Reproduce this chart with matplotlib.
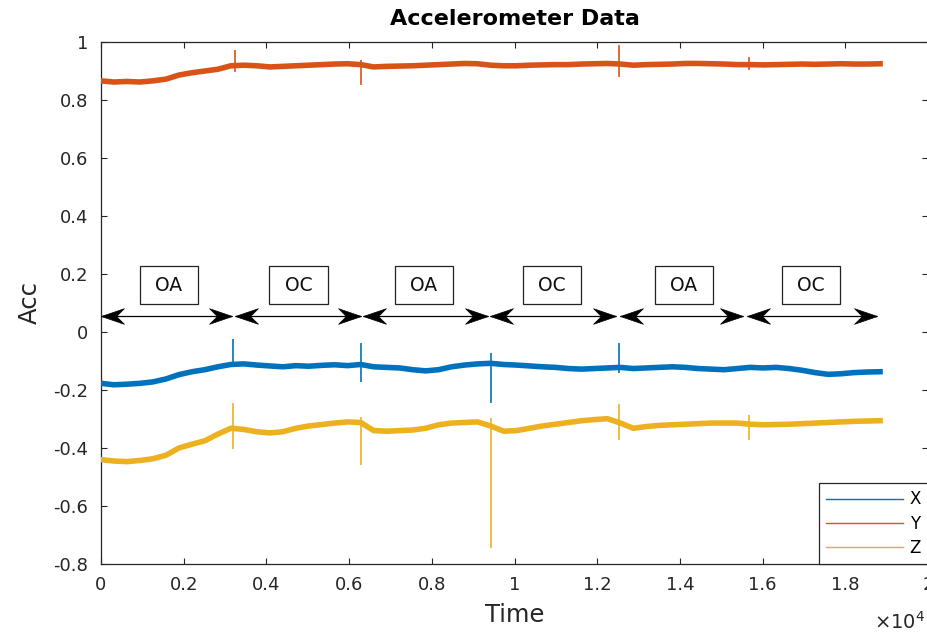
import numpy as np
import matplotlib
matplotlib.use("Agg")
import matplotlib.pyplot as plt
from matplotlib.path import Path
from matplotlib.lines import Line2D

# ---------------- data ----------------
t = np.linspace(0, 18840, 61)   # sample index (time)

acc_x = [-0.177, -0.182, -0.180, -0.177, -0.172, -0.162, -0.147, -0.137, -0.130, -0.120,
         -0.112, -0.110, -0.114, -0.117, -0.120, -0.116, -0.118, -0.115, -0.113, -0.116,
         -0.112, -0.120, -0.122, -0.124, -0.130, -0.134, -0.130, -0.120, -0.114, -0.110,
         -0.108, -0.112, -0.114, -0.117, -0.120, -0.122, -0.126, -0.128, -0.126, -0.124,
         -0.122, -0.126, -0.124, -0.122, -0.120, -0.122, -0.126, -0.128, -0.130, -0.126,
         -0.122, -0.124, -0.122, -0.126, -0.132, -0.140, -0.146, -0.144, -0.140, -0.138,
         -0.137]

acc_y = [0.866, 0.862, 0.864, 0.862, 0.866, 0.872, 0.886, 0.894, 0.900, 0.906,
         0.918, 0.920, 0.918, 0.914, 0.916, 0.918, 0.920, 0.922, 0.924, 0.925,
         0.922, 0.914, 0.916, 0.917, 0.918, 0.920, 0.922, 0.924, 0.926, 0.925,
         0.920, 0.918, 0.918, 0.920, 0.921, 0.922, 0.922, 0.924, 0.925, 0.926,
         0.924, 0.920, 0.922, 0.923, 0.924, 0.926, 0.926, 0.925, 0.924, 0.922,
         0.922, 0.921, 0.922, 0.923, 0.924, 0.923, 0.924, 0.925, 0.924, 0.924,
         0.925]

acc_z = [-0.440, -0.445, -0.447, -0.443, -0.437, -0.425, -0.400, -0.387, -0.375, -0.352,
         -0.332, -0.336, -0.344, -0.348, -0.344, -0.332, -0.324, -0.319, -0.314, -0.310,
         -0.312, -0.340, -0.342, -0.340, -0.338, -0.332, -0.320, -0.314, -0.312, -0.310,
         -0.324, -0.342, -0.340, -0.332, -0.324, -0.318, -0.312, -0.306, -0.302, -0.299,
         -0.314, -0.332, -0.326, -0.322, -0.320, -0.318, -0.316, -0.314, -0.314, -0.314,
         -0.318, -0.320, -0.319, -0.318, -0.316, -0.314, -0.312, -0.310, -0.308, -0.307,
         -0.306]

# spikes (transients at segment changes)
spike_x_t = [3200, 6290, 9430, 12530]
spike_x_lo = [-0.115, -0.171, -0.244, -0.141]
spike_x_hi = [-0.025, -0.038, -0.071, -0.038]

spike_y_t = [3230, 6290, 12530, 15680]
spike_y_lo = [0.898, 0.852, 0.880, 0.903]
spike_y_hi = [0.972, 0.938, 0.990, 0.949]

spike_z_t = [3200, 6290, 9430, 12530, 15680]
spike_z_lo = [-0.403, -0.459, -0.745, -0.372, -0.372]
spike_z_hi = [-0.245, -0.293, -0.297, -0.250, -0.286]

# segment annotations
seg_labels = ["OA", "OC", "OA", "OC", "OA", "OC"]
seg_label_t = [1645, 4776, 7805, 10907, 14092, 17171]
arrow_start = [0, 3240, 6340, 9410, 12550, 15620]
arrow_end = [3160, 6280, 9360, 12455, 15525, 18770]
arrow_level = 0.055
label_level = 0.162

x_ticks = [0, 2000, 4000, 6000, 8000, 10000, 12000, 14000, 16000, 18000, 20000]
x_tick_labels = ["0", "0.2", "0.4", "0.6", "0.8", "1", "1.2", "1.4", "1.6", "1.8", "2"]
y_ticks = [-0.8, -0.6, -0.4, -0.2, 0, 0.2, 0.4, 0.6, 0.8, 1]
y_tick_labels = ["-0.8", "-0.6", "-0.4", "-0.2", "0", "0.2", "0.4", "0.6", "0.8", "1"]

# ---------------- style ----------------
C_X = "#0072BD"
C_Y = "#D95319"
C_Z = "#EDB120"
AX_C = "#262626"

plt.rcParams["font.family"] = ["DejaVu Sans"]

fig = plt.figure(figsize=(9.28, 6.33), dpi=100)
ax = fig.add_axes([101 / 928, 1 - 564 / 633, 827 / 928, 522 / 633])

lw_band = 4.0
ax.plot(t, acc_x, color=C_X, lw=lw_band, solid_joinstyle="round", zorder=3)
ax.plot(t, acc_y, color=C_Y, lw=lw_band, solid_joinstyle="round", zorder=3)
ax.plot(t, acc_z, color=C_Z, lw=lw_band, solid_joinstyle="round", zorder=3)

ax.vlines(spike_x_t, spike_x_lo, spike_x_hi, color=C_X, lw=1.2, zorder=3)
ax.vlines(spike_y_t, spike_y_lo, spike_y_hi, color=C_Y, lw=1.2, zorder=3)
ax.vlines(spike_z_t, spike_z_lo, spike_z_hi, color=C_Z, lw=1.2, zorder=3)

# stealth-like arrow heads as custom markers (tip at origin)
head_r = Path([(0, 0), (-1, 0.34), (-0.66, 0), (-1, -0.34), (0, 0)],
              [Path.MOVETO, Path.LINETO, Path.LINETO, Path.LINETO, Path.CLOSEPOLY])
head_l = Path([(0, 0), (1, 0.34), (0.66, 0), (1, -0.34), (0, 0)],
              [Path.MOVETO, Path.LINETO, Path.LINETO, Path.LINETO, Path.CLOSEPOLY])
for s, e in zip(arrow_start, arrow_end):
    ax.plot([s, e], [arrow_level, arrow_level], color="black", lw=0.9, zorder=4,
            solid_capstyle="butt")
    ax.plot([e], [arrow_level], marker=head_r, ms=33, color="black", mec="black",
            mew=0.5, zorder=5, clip_on=False)
    ax.plot([s], [arrow_level], marker=head_l, ms=33, color="black", mec="black",
            mew=0.5, zorder=5, clip_on=False)

for lab, xt in zip(seg_labels, seg_label_t):
    ax.text(xt, label_level, " " + lab + " ", fontsize=13.5, ha="center", va="center",
            color="#111111", zorder=6,
            bbox=dict(boxstyle="square,pad=0.5", fc="white", ec="#222222", lw=0.9))

ax.set_xlim(0, 20000)
ax.set_ylim(-0.8, 1.0)
ax.set_xticks(x_ticks)
ax.set_xticklabels(x_tick_labels)
ax.set_yticks(y_ticks)
ax.set_yticklabels(y_tick_labels)
ax.tick_params(direction="in", length=4.5, width=0.8, color=AX_C, labelcolor=AX_C,
               labelsize=13, top=True, right=True)
ax.tick_params(axis="x", pad=9)
ax.tick_params(axis="y", pad=9)
for sp in ax.spines.values():
    sp.set_color(AX_C)
    sp.set_linewidth(0.9)

ax.set_title("Accelerometer Data", fontsize=16, fontweight="bold", color="black", pad=12)
ax.set_xlabel("Time", fontsize=17.5, color=AX_C, labelpad=6)
ax.set_ylabel("Acc", fontsize=17.5, color=AX_C)
ax.yaxis.set_label_coords(-0.072, 0.5)

fig.text(925 / 928, 0.0, r"$\times10^{4}$", fontsize=14, ha="right", va="bottom",
         color=AX_C)

handles = [Line2D([], [], color=C_X, lw=1.0),
           Line2D([], [], color=C_Y, lw=1.0),
           Line2D([], [], color=C_Z, lw=1.0)]
leg = ax.legend(handles, ["X", "Y", "Z"], loc="lower right", bbox_to_anchor=(1.0, 0.0),
                borderaxespad=0.0, fontsize=12, handlelength=4.6, handletextpad=0.4,
                labelspacing=0.38, borderpad=0.42, frameon=True, fancybox=False,
                framealpha=1.0, edgecolor=AX_C, markerfirst=True)
leg.get_frame().set_linewidth(0.9)
leg.set_zorder(10)

fig.savefig("out.png", dpi=100)
